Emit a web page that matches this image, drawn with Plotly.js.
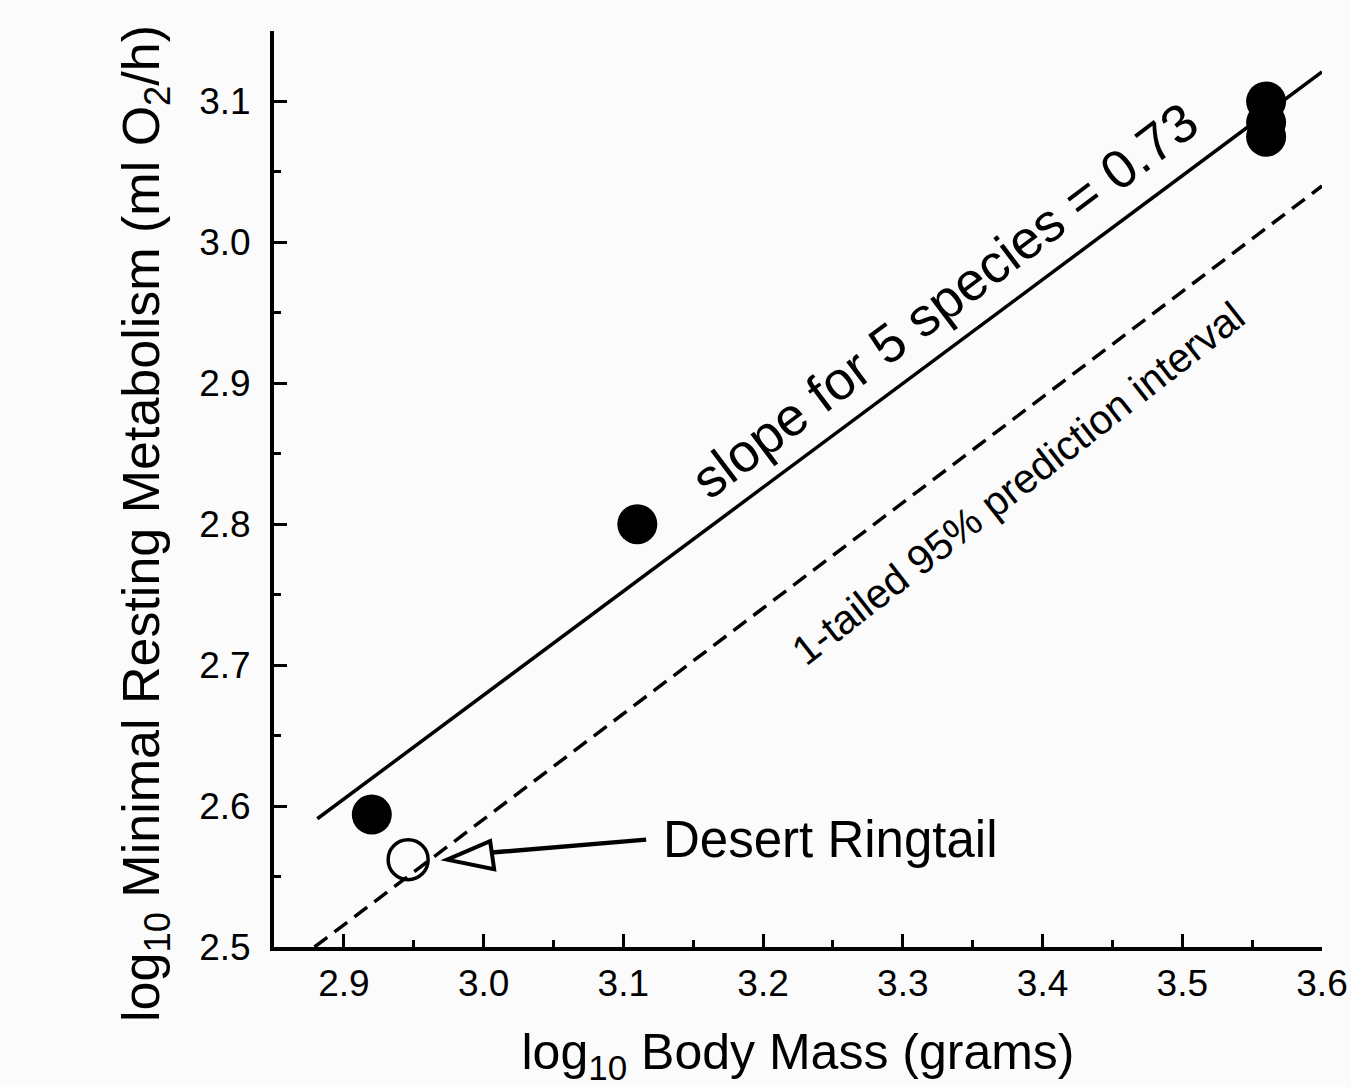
<!DOCTYPE html>
<html>
<head>
<meta charset="utf-8">
<script src="https://cdn.plot.ly/plotly-3.0.1.min.js"></script>
<style>html,body{margin:0;padding:0;background:#fbfbfb;}</style>
</head>
<body>
<div id="chart" style="width:1351px;height:1087px;"></div>
<script>
// Data
const speciesMass = [2.92, 3.11, 3.56, 3.56, 3.56];
const speciesMetab = [2.594, 2.80, 3.10, 3.085, 3.075];
const ringtailMass = [2.946];
const ringtailMetab = [2.562];
const slopeLineX = [2.881, 3.60];
const slopeLineY = [2.591, 3.121];
const predLineX = [2.879, 3.60];
const predLineY = [2.50, 3.040];
const xTickVals = [2.9, 3.0, 3.1, 3.2, 3.3, 3.4, 3.5, 3.6];
const yTickVals = [2.5, 2.6, 2.7, 2.8, 2.9, 3.0, 3.1];
const xTitle = 'log<sub>10</sub> Body Mass (grams)';
const yTitle = 'log<sub>10</sub> Minimal Resting Metabolism (ml O<sub>2</sub>/h)';
const slopeLabel = 'slope for 5 species = 0.73';
const predLabel = '1-tailed 95% prediction interval';
const ringtailLabel = 'Desert Ringtail';

const FONT = 'Liberation Sans, Arial, Helvetica, sans-serif';

const traces = [
  {x: slopeLineX, y: slopeLineY, mode: 'lines', type: 'scatter',
   line: {color: '#000', width: 3.5}, hoverinfo: 'skip', showlegend: false},
  {x: predLineX, y: predLineY, mode: 'lines', type: 'scatter',
   line: {color: '#000', width: 3.5, dash: '16px,9px'}, hoverinfo: 'skip', showlegend: false},
  {x: speciesMass, y: speciesMetab, mode: 'markers', type: 'scatter',
   marker: {symbol: 'circle', size: 40, color: '#000', line: {width: 0}}, showlegend: false},
  {x: ringtailMass, y: ringtailMetab, mode: 'markers', type: 'scatter',
   marker: {symbol: 'circle-open', size: 40, color: '#000', line: {width: 3.5, color: '#000'}}, showlegend: false}
];

const axisCommon = {
  showline: true, linecolor: '#000', linewidth: 4, mirror: false,
  showgrid: false, zeroline: false,
  ticks: 'inside', ticklen: 13, tickwidth: 3, tickcolor: '#000',
  tickformat: '.1f'
};

const layout = {
  width: 1351, height: 1087,
  paper_bgcolor: '#fbfbfb', plot_bgcolor: '#fbfbfb',
  margin: {l: 274, r: 29, t: 31, b: 140},
  showlegend: false,
  font: {family: FONT, color: '#000'},
  xaxis: Object.assign({}, axisCommon, {
    range: [2.85, 3.6], tickmode: 'array', tickvals: xTickVals,
    minor: {ticks: 'inside', ticklen: 7, tickwidth: 3, tickcolor: '#000', dtick: 0.05, tick0: 2.85},
    tickfont: {family: FONT, size: 37, color: '#000'},
    ticklabelstandoff: 1,
    title: {text: xTitle, font: {family: FONT, size: 50, color: '#000'}, standoff: 32}
  }),
  yaxis: Object.assign({}, axisCommon, {
    range: [2.5, 3.15], tickmode: 'array', tickvals: yTickVals,
    minor: {ticks: 'inside', ticklen: 7, tickwidth: 3, tickcolor: '#000', dtick: 0.05, tick0: 2.5},
    tickfont: {family: FONT, size: 37, color: '#000'},
    ticklabelstandoff: 12
  }),
  annotations: [
    {xref: 'paper', yref: 'paper', x: -0.1231, y: 0.4629, xanchor: 'center', yanchor: 'middle',
     text: yTitle, showarrow: false, textangle: -90,
     font: {family: FONT, size: 52, color: '#000'}},
    {xref: 'x', yref: 'y', x: 3.330, y: 2.959, text: slopeLabel, showarrow: false,
     textangle: -37, font: {family: FONT, size: 54, color: '#000'}},
    {xref: 'x', yref: 'y', x: 3.383, y: 2.829, text: predLabel, showarrow: false,
     textangle: -38, font: {family: FONT, size: 41, color: '#000'}},
    {xref: 'x', yref: 'y', x: ringtailMass[0], y: ringtailMetab[0], text: ringtailLabel,
     showarrow: true, arrowhead: 0, arrowwidth: 4.5, arrowcolor: '#000',
     ax: 238, ay: -20, standoff: 84, xanchor: 'left', yanchor: 'middle', borderpad: 16,
     font: {family: FONT, size: 51, color: '#000'}}
  ],
  shapes: [
    {type: 'path', xref: 'x', yref: 'y', xsizemode: 'pixel', ysizemode: 'pixel',
     xanchor: ringtailMass[0], yanchor: ringtailMetab[0],
     path: 'M 39 0 L 82 18.5 L 86 -9.5 Z',
     line: {color: '#000', width: 4}, fillcolor: 'rgba(0,0,0,0)', layer: 'above'}
  ]
};

Plotly.newPlot('chart', traces, layout, {displayModeBar: false, staticPlot: true});
</script>
</body>
</html>
